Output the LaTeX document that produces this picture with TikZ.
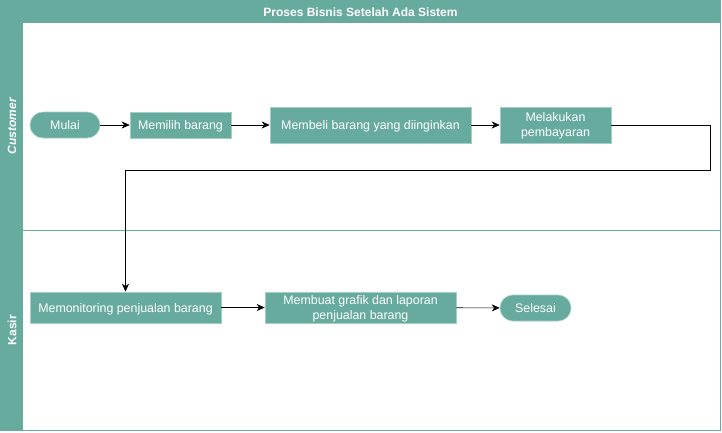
\documentclass[tikz,border=0pt]{standalone}
\usepackage{fontspec}
\setmainfont{Liberation Sans}
\usepackage{xcolor}
\usetikzlibrary{arrows.meta}

\definecolor{lanegreen}{HTML}{67AB9F}
\definecolor{boxline}{HTML}{A3CFC7}

\begin{document}
\begin{tikzpicture}[x=1pt,y=-1pt,->,>={Stealth[length=8pt,width=7pt,inset=2.5pt]},
            semithick,font=\fontsize{12.4}{15}\selectfont]
        \tikzstyle{step box}=[draw=boxline,fill=lanegreen,text=white,
            rectangle,inner sep=0pt,align=center,minimum height=26pt,text depth=0pt]
        \tikzstyle{terminal}=[step box,rounded corners=13pt,minimum width=70pt]

        \useasboundingbox (0,0) rectangle (722,432);

        % swimlanes
        \draw[-,lanegreen,thin,fill=white] (0.5,0.5) rectangle (720.5,430.5);
        \fill[lanegreen] (0.5,0.5) rectangle (720.5,23);
        \fill[lanegreen] (0.5,23) rectangle (23,430.5);
        \draw[-,lanegreen,thin] (23,230.5) -- (720.5,230.5);
        \node[text=white,font=\fontsize{12}{14}\selectfont\bfseries] (title) at (360.5,12) {Proses Bisnis Setelah Ada Sistem};
        \node[text=white,rotate=90,font=\fontsize{12}{14}\selectfont\bfseries\itshape] (cust) at (12,126) {Customer};
        \node[text=white,rotate=90,font=\fontsize{12}{14}\selectfont\bfseries] (kasir) at (12,330) {Kasir};

        % customer
        \node[terminal] (mulai) at (65,125) {Mulai};
        \node[step box,minimum width=101pt] (pilih) at (180.5,125) {Memilih barang};
        \node[step box,minimum width=201pt,minimum height=36pt] (beli) at (370.5,125) {Membeli barang yang diinginkan};
        \node[step box,minimum width=111pt,minimum height=36pt] (bayar) at (555.5,125) {Melakukan\\pembayaran};

        % kasir
        \node[step box,minimum width=191pt,minimum height=31pt] (monitor) at (125.5,307.5) {Memonitoring penjualan barang};
        \node[step box,minimum width=191pt,minimum height=31pt] (grafik) at (360.5,307.5) {Membuat grafik dan laporan\\penjualan barang};
        \node[terminal,minimum width=71pt] (selesai) at (535.5,308) {Selesai};

        \coordinate (turn) at (710.5,170.5);

        \path (mulai) edge (pilih);
        \path (pilih) edge (beli);
        \path (beli) edge (bayar);
        \draw (bayar.east) -| (turn) -| (monitor.north);
        \path (monitor) edge (grafik);
        \path (grafik) edge (selesai);
    \end{tikzpicture}
\end{document}
